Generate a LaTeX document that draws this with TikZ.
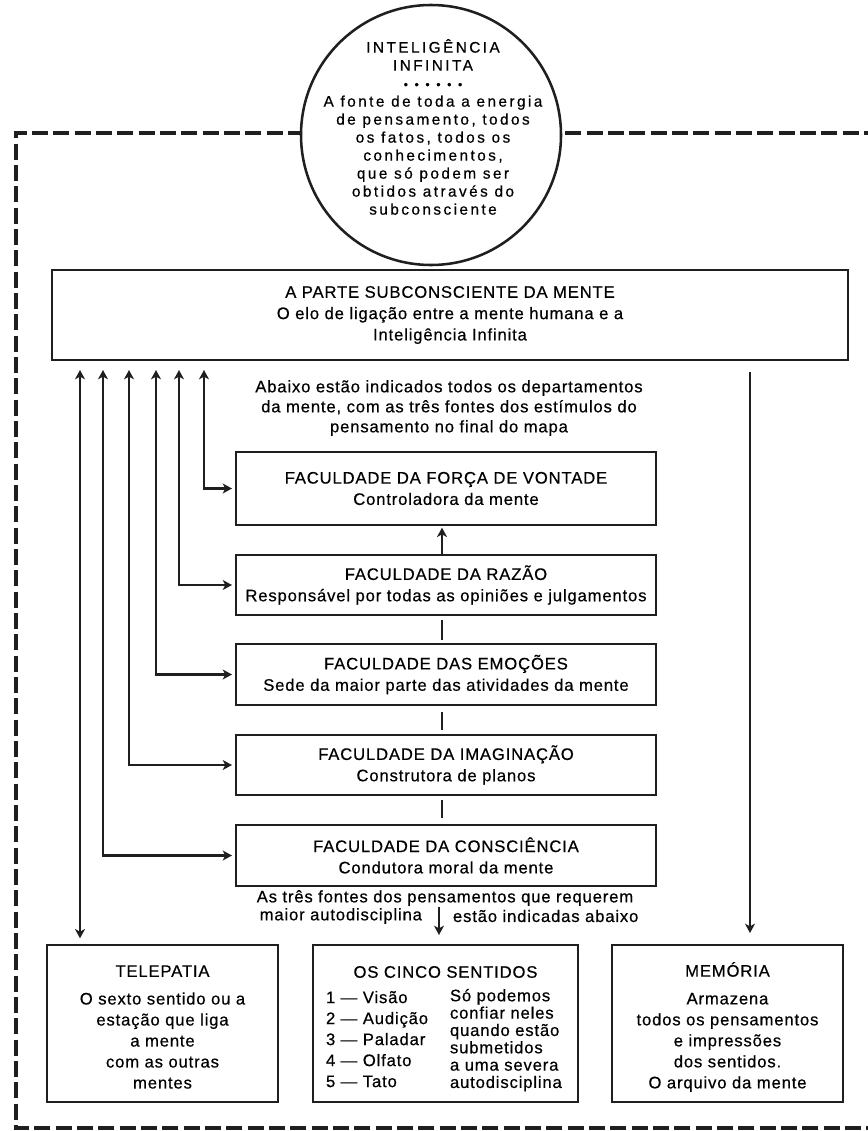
\documentclass[tikz,border=0pt]{standalone}
\usepackage{fontspec}
\setmainfont{Liberation Sans}[LetterSpace=5,FakeBold=0.5]
\usetikzlibrary{arrows.meta,calc}
\colorlet{ink}{black!88}
\newcommand\dotsep{\hspace{5pt}}
\begin{document}
\begin{tikzpicture}[x=0.75pt,y=-0.75pt,
  every node/.style={text=black},
  box/.style={draw=ink,line width=1.9pt,inner sep=0pt,outer sep=0pt,align=center,
    font=\fontsize{12.5}{16}\selectfont},
  txt/.style={inner sep=0pt,outer sep=0pt,align=center,font=\fontsize{12.5}{15}\selectfont},
  conn/.style={draw=ink,line width=2pt},
  tip/.style={-{Stealth[length=7pt,width=7.5pt,inset=2pt]}},
  dtip/.style={{Stealth[length=7pt,width=7.5pt,inset=2pt]}-{Stealth[length=7pt,width=7.5pt,inset=2pt]}},
  frame/.style={draw=ink,line width=2.8pt,dash pattern=on 12pt off 4pt}
]
\useasboundingbox (0,0) rectangle (867,1131);
% dashed frame
\draw[frame] (880,133) -- (16,133) -- (16,1128) -- (880,1128);
% circle
\node[circle,draw=ink,fill=white,line width=1.9pt,minimum size=195pt,inner sep=0pt] (inf) at (431,135) {};
\node[txt,font=\fontsize{11.5}{13.5}\selectfont\addfontfeature{LetterSpace=16}] (inftxt) at (433,127)
 {INTELIGÊNCIA\\INFINITA\\{\fontsize{9}{10}\selectfont\addfontfeature{LetterSpace=0}•\dotsep•\dotsep•\dotsep•\dotsep•\dotsep•}\\A fonte de toda a energia\\de pensamento, todos\\os fatos, todos os\\conhecimentos,\\que só podem ser\\obtidos através do\\subconsciente};
% main box
\node[box,minimum width=597pt,minimum height=67.5pt] (main) at (450,315)
 {A PARTE SUBCONSCIENTE DA MENTE\\O elo de ligação entre a mente humana e a\\Inteligência Infinita};
\node[txt] (cap1) at (449,408)
 {Abaixo estão indicados todos os departamentos\\da mente, com as três fontes dos estímulos do\\pensamento no final do mapa};
% faculties
\node[box,minimum width=315pt,minimum height=54.75pt] (forca) at (446,488.5)
 {FACULDADE DA FORÇA DE VONTADE\\Controladora da mente};
\node[box,minimum width=315pt,minimum height=45pt] (razao) at (446,585)
 {FACULDADE DA RAZÃO\\Responsável por todas as opiniões e julgamentos};
\node[box,minimum width=315pt,minimum height=45.75pt] (emo) at (446,674.5)
 {FACULDADE DAS EMOÇÕES\\Sede da maior parte das atividades da mente};
\node[box,minimum width=315pt,minimum height=45pt] (imag) at (446,765)
 {FACULDADE DA IMAGINAÇÃO\\Construtora de planos};
\node[box,minimum width=315pt,minimum height=45.75pt] (cons) at (446,855.5)
 {FACULDADE DA CONSCIÊNCIA\\Condutora moral da mente};
\node[txt] (cap2) at (445,898) {As três fontes dos pensamentos que requerem};
\node[txt,anchor=east] (cap3) at (422,916) {maior autodisciplina};
\node[txt,anchor=west] (cap4) at (453,916) {estão indicadas abaixo};
% bottom boxes
\node[box,minimum width=173.25pt,minimum height=117.75pt] (tel) at (162.5,1023.5) {};
\node[txt,font=\fontsize{12.5}{15.75}\selectfont] (telt) at (162.5,1027)
 {TELEPATIA\\[5pt]O sexto sentido ou a\\estação que liga\\a mente\\com as outras\\mentes};
\node[box,minimum width=198.75pt,minimum height=117.75pt] (cinco) at (445.5,1023.5) {};
\node[txt] (cincoh) at (445.5,972) {OS CINCO SENTIDOS};
\node[txt,anchor=north west,align=left,font=\fontsize{12.5}{15.75}\selectfont] (cincol) at (326,991)
 {1 — Visão\\2 — Audição\\3 — Paladar\\4 — Olfato\\5 — Tato};
\node[txt,anchor=north west,align=left,font=\fontsize{12.5}{13}\selectfont] (cincor) at (450,989)
 {Só podemos\\confiar neles\\quando estão\\submetidos\\a uma severa\\autodisciplina};
\node[box,minimum width=173.25pt,minimum height=117.75pt] (mem) at (727.5,1023.5) {};
\node[txt,font=\fontsize{12.5}{15.75}\selectfont] (memt) at (727.5,1027)
 {MEMÓRIA\\[5pt]Armazena\\todos os pensamentos\\e impressões\\dos sentidos.\\O arquivo da mente};
% coordinates for connector columns
\coordinate (c0) at (80,0);
\coordinate (c1) at (103,0);
\coordinate (c2) at (129,0);
\coordinate (c3) at (156,0);
\coordinate (c4) at (179,0);
\coordinate (c5) at (204,0);
\coordinate (c6) at (750,0);
\coordinate (cx) at (442,0);
\coordinate (cy) at (439,0);
% connectors
\draw[conn,dtip,shorten <=7.5pt,shorten >=5pt] (main.south -| c0) -- (tel.north -| c0);
\draw[conn,dtip,shorten <=7.5pt,shorten >=3pt] (main.south -| c1) |- (cons.west);
\draw[conn,dtip,shorten <=7.5pt,shorten >=3pt] (main.south -| c2) |- (imag.west);
\draw[conn,dtip,shorten <=7.5pt,shorten >=3pt] (main.south -| c3) |- (emo.west);
\draw[conn,dtip,shorten <=7.5pt,shorten >=3pt] (main.south -| c4) |- (razao.west);
\draw[conn,dtip,shorten <=7.5pt,shorten >=3pt] (main.south -| c5) |- (forca.west);
\draw[conn,tip,shorten <=9pt,shorten >=9pt] (main.south -| c6) -- (mem.north -| c6);
\draw[conn,tip,shorten >=2pt] (razao.north -| cx) -- (forca.south -| cx);
\draw[conn,shorten <=3.75pt,shorten >=3pt] (razao.south -| cx) -- (emo.north -| cx);
\draw[conn,shorten <=5pt,shorten >=3.75pt] (emo.south -| cx) -- (imag.north -| cx);
\draw[conn,shorten <=3.75pt,shorten >=5pt] (imag.south -| cx) -- (cons.north -| cx);
\draw[conn,tip,shorten <=15.75pt,shorten >=7.5pt] (cons.south -| cy) -- (cinco.north -| cy);
\end{tikzpicture}
\end{document}
